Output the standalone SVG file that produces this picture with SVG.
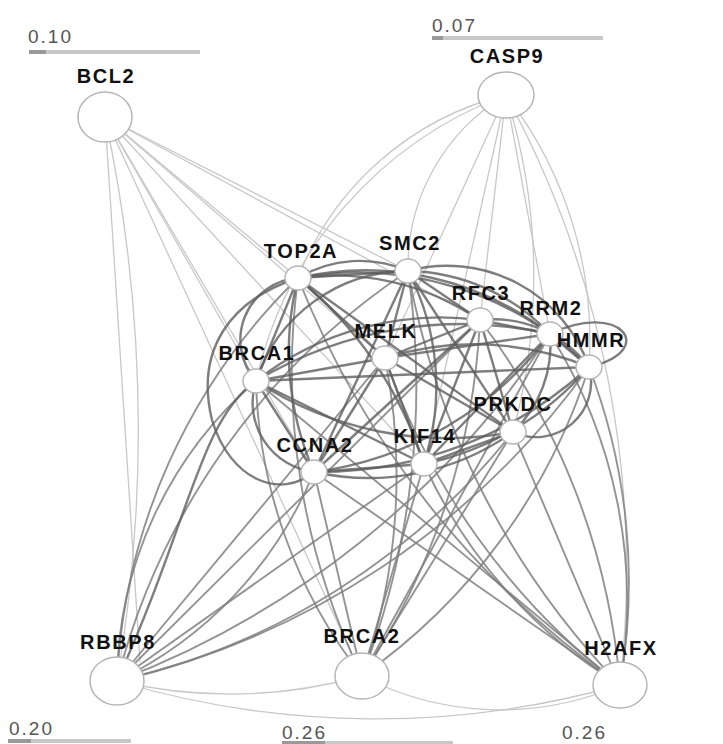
<svg xmlns="http://www.w3.org/2000/svg" width="723" height="744" viewBox="0 0 723 744">
<style>
.bg{fill:#ffffff}
.d{fill:none;stroke:#5e5e5e;stroke-width:2.4;stroke-opacity:.8}
.m{fill:none;stroke:#808080;stroke-width:1.9;stroke-opacity:.85}
.l{fill:none;stroke:#c8c8c8;stroke-width:1.3}
.n{fill:#ffffff;stroke:#b5b5b5;stroke-width:1.5}
.lab{font-family:"Liberation Sans",Arial,sans-serif;font-weight:bold;font-size:20px;letter-spacing:1.6px;fill:#111;text-anchor:middle}
.sc{font-family:"Liberation Sans",Arial,sans-serif;font-size:19px;letter-spacing:2px;fill:#555}
.bar{stroke:#c8c8c8;stroke-width:4}
.barD{stroke:#999;stroke-width:4}
</style>
<rect class="bg" x="0" y="0" width="723" height="744"/>
<g id="scales">
<text class="sc" x="28" y="43">0.10</text>
<line class="bar" x1="29" y1="52" x2="200" y2="52"/><line class="barD" x1="29" y1="52" x2="46" y2="52"/>
<text class="sc" x="432" y="32">0.07</text>
<line class="bar" x1="432" y1="38" x2="603" y2="38"/><line class="barD" x1="432" y1="38" x2="443" y2="38"/>
<text class="sc" x="9" y="735">0.20</text>
<line class="bar" x1="8" y1="741" x2="131" y2="741"/><line class="barD" x1="8" y1="741" x2="31" y2="741"/>
<text class="sc" x="282" y="739">0.26</text>
<line class="bar" x1="282" y1="743" x2="453" y2="743"/><line class="barD" x1="282" y1="743" x2="325" y2="743"/>
<text class="sc" x="562" y="739">0.26</text>
</g>
<g id="connectors">
<path class="l" d="M105 117 L408 271"/>
<path class="l" d="M105 117 L480 320"/>
<path class="l" d="M105 117 L298 278"/>
<path class="l" d="M105 117 L256 381"/>
<path class="l" d="M105 117 L385 358"/>
<path class="l" d="M105 117 L314 472"/>
<path class="l" d="M105 117 L424 464"/>
<path class="l" d="M105 117 A1500 1500 0 0 1 117 681"/>
<path class="l" d="M105 117 L140 662"/>
<path class="l" d="M105 117 L362 676"/>
<path class="l" d="M506 95 A300 300 0 0 0 298 278"/>
<path class="l" d="M506 95 A400 400 0 0 0 256 381"/>
<path class="l" d="M506 95 A200 200 0 0 0 408 271"/>
<path class="l" d="M506 95 L385 358"/>
<path class="l" d="M506 95 L480 320"/>
<path class="l" d="M506 95 L550 334"/>
<path class="l" d="M506 95 A400 400 0 0 1 589 367"/>
<path class="l" d="M506 95 A600 600 0 0 1 513 432"/>
<path class="l" d="M506 95 L424 464"/>
<path class="l" d="M506 95 A1000 1000 0 0 1 620 685"/>
<path class="l" d="M117 681 A500 500 0 0 0 362 676"/>
<path class="l" d="M117 681 A900 900 0 0 0 620 685"/>
<path class="l" d="M362 676 A300 300 0 0 0 620 685"/>
<path class="m" d="M117 681 A600 600 0 0 1 298 278"/>
<path class="m" d="M117 681 A400 400 0 0 1 256 381"/>
<path class="m" d="M117 681 A700 700 0 0 1 408 271"/>
<path class="m" d="M117 681 L385 358"/>
<path class="m" d="M117 681 L480 320"/>
<path class="m" d="M117 681 A900 900 0 0 0 550 334"/>
<path class="m" d="M117 681 A800 800 0 0 0 589 367"/>
<path class="m" d="M117 681 A700 700 0 0 0 513 432"/>
<path class="m" d="M117 681 L424 464"/>
<path class="m" d="M117 681 A400 400 0 0 0 314 472"/>
<path class="m" d="M362 676 A700 700 0 0 1 298 278"/>
<path class="m" d="M362 676 A500 500 0 0 1 256 381"/>
<path class="m" d="M362 676 L314 472"/>
<path class="m" d="M362 676 A600 600 0 0 0 385 358"/>
<path class="m" d="M362 676 L424 464"/>
<path class="m" d="M362 676 A800 800 0 0 0 408 271"/>
<path class="m" d="M362 676 L513 432"/>
<path class="m" d="M362 676 A700 700 0 0 0 480 320"/>
<path class="m" d="M362 676 A600 600 0 0 0 589 367"/>
<path class="m" d="M362 676 L550 334"/>
<path class="m" d="M620 685 A600 600 0 0 0 589 367"/>
<path class="m" d="M620 685 A500 500 0 0 0 550 334"/>
<path class="m" d="M620 685 L513 432"/>
<path class="m" d="M620 685 A500 500 0 0 1 424 464"/>
<path class="m" d="M620 685 L314 472"/>
<path class="m" d="M620 685 A700 700 0 0 1 385 358"/>
<path class="m" d="M620 685 L256 381"/>
<path class="m" d="M620 685 A900 900 0 0 1 298 278"/>
<path class="m" d="M620 685 A800 800 0 0 1 408 271"/>
<path class="m" d="M620 685 A700 700 0 0 0 480 320"/>
<path class="d" d="M298 278 L408 271"/>
<path class="d" d="M298 278 A120 120 0 0 1 408 271"/>
<path class="d" d="M298 278 A260 260 0 0 1 480 320"/>
<path class="d" d="M298 278 A300 300 0 0 1 550 334"/>
<path class="d" d="M298 278 A330 330 0 0 1 589 367"/>
<path class="d" d="M298 278 L385 358"/>
<path class="d" d="M298 278 A62 62 0 0 0 256 381"/>
<path class="d" d="M298 278 L256 381"/>
<path class="d" d="M298 278 L513 432"/>
<path class="d" d="M298 278 A400 400 0 0 1 424 464"/>
<path class="d" d="M298 278 A300 300 0 0 0 314 472"/>
<path class="d" d="M408 271 L480 320"/>
<path class="d" d="M408 271 A200 200 0 0 1 550 334"/>
<path class="d" d="M408 271 A150 150 0 0 1 589 367"/>
<path class="d" d="M408 271 L385 358"/>
<path class="d" d="M408 271 A160 160 0 0 0 256 381"/>
<path class="d" d="M408 271 L513 432"/>
<path class="d" d="M408 271 A250 250 0 0 1 424 464"/>
<path class="d" d="M408 271 L314 472"/>
<path class="d" d="M480 320 L550 334"/>
<path class="d" d="M480 320 A120 120 0 0 1 589 367"/>
<path class="d" d="M480 320 L385 358"/>
<path class="d" d="M480 320 A300 300 0 0 0 256 381"/>
<path class="d" d="M480 320 L513 432"/>
<path class="d" d="M480 320 L424 464"/>
<path class="d" d="M480 320 L314 472"/>
<path class="d" d="M550 334 L589 367"/>
<path class="d" d="M550 334 C620 300 660 350 589 367"/>
<path class="d" d="M550 334 L385 358"/>
<path class="d" d="M550 334 A400 400 0 0 0 256 381"/>
<path class="d" d="M550 334 A120 120 0 0 1 513 432"/>
<path class="d" d="M550 334 L424 464"/>
<path class="d" d="M550 334 A350 350 0 0 1 314 472"/>
<path class="d" d="M589 367 A300 300 0 0 0 385 358"/>
<path class="d" d="M589 367 L256 381"/>
<path class="d" d="M589 367 A55 55 0 0 1 513 432"/>
<path class="d" d="M589 367 A300 300 0 0 1 424 464"/>
<path class="d" d="M589 367 A400 400 0 0 1 314 472"/>
<path class="d" d="M385 358 L256 381"/>
<path class="d" d="M385 358 L513 432"/>
<path class="d" d="M385 358 L424 464"/>
<path class="d" d="M385 358 L314 472"/>
<path class="d" d="M256 381 A350 350 0 0 0 513 432"/>
<path class="d" d="M256 381 L424 464"/>
<path class="d" d="M256 381 A70 70 0 0 0 314 472"/>
<path class="d" d="M256 381 L314 472"/>
<path class="d" d="M513 432 L424 464"/>
<path class="d" d="M513 432 A250 250 0 0 1 314 472"/>
<path class="d" d="M424 464 L314 472"/>
<path class="d" d="M256 381 C200 420 190 520 117 681"/>
<path class="d" d="M298 278 C230 300 195 350 212 420 C230 480 280 500 314 472"/>
</g>
<g id="BCL2"><ellipse class="n" cx="105" cy="117" rx="27" ry="25"/><text class="lab" x="106" y="83">BCL2</text></g>
<g id="CASP9"><ellipse class="n" cx="506" cy="95" rx="28" ry="23"/><text class="lab" x="507" y="63">CASP9</text></g>
<g id="TOP2A"><ellipse class="n" cx="298" cy="278" rx="13" ry="12"/><text class="lab" x="301" y="258">TOP2A</text></g>
<g id="SMC2"><ellipse class="n" cx="408" cy="271" rx="13" ry="12"/><text class="lab" x="410" y="250">SMC2</text></g>
<g id="RFC3"><ellipse class="n" cx="480" cy="320" rx="13" ry="12"/><text class="lab" x="481" y="300">RFC3</text></g>
<g id="RRM2"><ellipse class="n" cx="550" cy="334" rx="13" ry="12"/><text class="lab" x="551" y="315">RRM2</text></g>
<g id="HMMR"><ellipse class="n" cx="589" cy="367" rx="13" ry="12"/><text class="lab" x="591" y="347">HMMR</text></g>
<g id="MELK"><ellipse class="n" cx="385" cy="358" rx="13" ry="12"/><text class="lab" x="386" y="338">MELK</text></g>
<g id="BRCA1"><ellipse class="n" cx="256" cy="381" rx="13" ry="12"/><text class="lab" x="257" y="360">BRCA1</text></g>
<g id="PRKDC"><ellipse class="n" cx="513" cy="432" rx="13" ry="12"/><text class="lab" x="513" y="411">PRKDC</text></g>
<g id="KIF14"><ellipse class="n" cx="424" cy="464" rx="13" ry="12"/><text class="lab" x="425" y="443">KIF14</text></g>
<g id="CCNA2"><ellipse class="n" cx="314" cy="472" rx="13" ry="12"/><text class="lab" x="315" y="452">CCNA2</text></g>
<g id="RBBP8"><ellipse class="n" cx="117" cy="681" rx="27" ry="24"/><text class="lab" x="118" y="649">RBBP8</text></g>
<g id="BRCA2"><ellipse class="n" cx="362" cy="676" rx="27" ry="23"/><text class="lab" x="362" y="643">BRCA2</text></g>
<g id="H2AFX"><ellipse class="n" cx="620" cy="685" rx="27" ry="23"/><text class="lab" x="621" y="655">H2AFX</text></g>
</svg>
